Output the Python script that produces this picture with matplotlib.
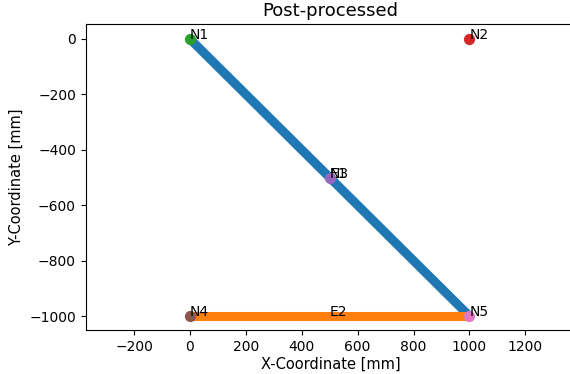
import matplotlib

matplotlib.use("Agg", force=True)
import matplotlib.pyplot as plt

# node data
node_names = ["N1", "N2", "N3", "N4", "N5"]
node_x = [0, 1000, 500, 0, 1000]
node_y = [0, 0, -500, -1000, -1000]

# element data (start node, end node)
element_names = ["E1", "E2"]
element_start = [0, 3]
element_end = [4, 4]

fig = plt.figure(figsize=(5.7, 3.74), dpi=100)
ax = fig.add_axes([85.7 / 570, 44 / 374, 490 / 570, 306 / 374])

for name, i, j in zip(element_names, element_start, element_end):
    xs = [node_x[i], node_x[j]]
    ys = [node_y[i], node_y[j]]
    ax.plot(xs, ys, linewidth=6.5, solid_capstyle="butt")
    # element label at the midpoint (E1 sits on top of N3, as in the original)
    ax.text((xs[0] + xs[1]) / 2, (ys[0] + ys[1]) / 2, name, fontsize=10)

for k, (name, x, y) in enumerate(zip(node_names, node_x, node_y)):
    ax.scatter([x], [y], s=50, color=f"C{k + 2}", zorder=3)
    ax.text(x, y, name, fontsize=10, zorder=4)

ax.set_xlim(-373, 1380)
ax.set_ylim(-1050, 54)
ax.set_title("Post-processed", fontsize=13)
ax.set_xlabel("X-Coordinate [mm]", fontsize=10.5, labelpad=2)
ax.set_ylabel("Y-Coordinate [mm]", fontsize=10.5)
ax.tick_params(labelsize=10)

fig.savefig("out.png", dpi=100)
plt.close(fig)
